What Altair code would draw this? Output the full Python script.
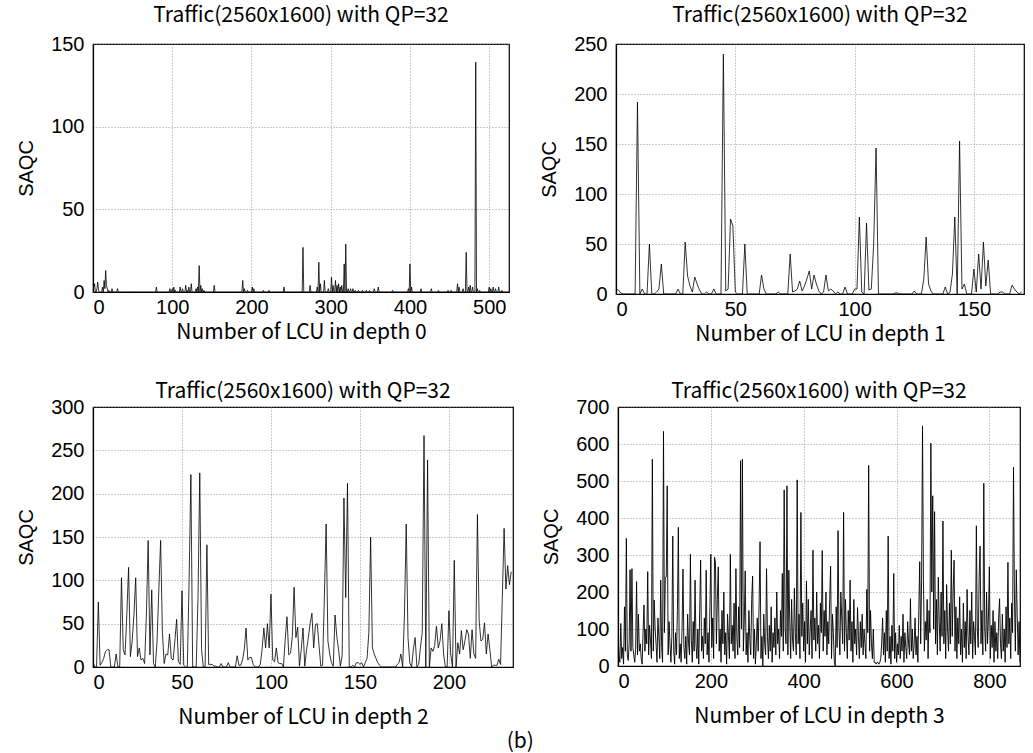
import altair as alt
import pandas as pd

TITLE = "Traffic(2560x1600) with QP=32"

# ---- depth 0: sparse spikes on a zero baseline (index, value) ----
d0_len = 526
d0_idx = [1, 2, 5, 6, 7, 12, 14, 15, 16, 17, 18, 20, 24, 31, 80, 97, 100, 102, 104, 110,
          113, 117, 119, 121, 124, 130, 132, 134, 136, 138, 140, 153, 189, 191, 195, 201, 203,
          215, 222, 241, 265, 274, 283, 285, 287, 292, 297, 301, 303, 306, 308, 310, 312, 314,
          317, 319, 322, 325, 328, 331, 335, 340, 345, 349, 355, 360, 378, 398, 400, 402, 414,
          427, 436, 448, 452, 460, 462, 467, 471, 474, 476, 479, 483, 485, 488, 500, 502, 505,
          508, 512, 516]
d0_val = [3, 5, 2, 6, 1, 3, 7, 2, 13, 4, 2, 1, 2, 2, 3, 2, 2, 3, 1, 3,
          2, 4, 1, 3, 5, 2, 3, 16, 4, 2, 1, 4, 7, 2, 1, 3, 2,
          1, 1, 3, 27, 4, 3, 18, 5, 7, 2, 9, 4, 7, 4, 5, 3, 4,
          17, 29, 2, 2, 2, 1, 1, 1, 1, 1, 2, 3, 1, 2, 17, 3, 2,
          2, 1, 1, 1, 5, 3, 2, 24, 3, 4, 3, 139, 2, 1, 3, 2, 3,
          2, 3, 1]

# ---- depth 1 ----
d1 = [5, 4, 1, 0, 0, 0, 0, 0, 0, 192, 0, 5, 0, 0, 50, 0, 0, 2, 5, 30,
      0, 0, 0, 0, 0, 0, 5, 0, 0, 52, 18, 8, 2, 17, 10, 4, 0, 0, 2, 0,
      0, 5, 0, 0, 0, 240, 3, 5, 75, 68, 2, 0, 0, 0, 50, 0, 0, 0, 0, 0,
      0, 19, 5, 0, 0, 0, 0, 0, 2, 0, 0, 0, 0, 40, 2, 3, 5, 13, 3, 8,
      15, 23, 5, 19, 10, 3, 0, 2, 19, 3, 5, 3, 0, 2, 0, 0, 7, 0, 0, 0,
      5, 5, 77, 2, 0, 71, 4, 5, 50, 146, 0, 0, 0, 0, 0, 0, 0, 1, 1, 0,
      0, 0, 0, 0, 0, 3, 0, 0, 0, 15, 57, 10, 3, 0, 0, 0, 0, 0, 7, 0,
      2, 20, 77, 0, 153, 5, 10, 0, 0, 0, 25, 2, 40, 5, 52, 8, 34, 0, 0, 0,
      0, 2, 2, 0, 0, 0, 9, 5, 2, 0, 2]

# ---- depth 2 ----
d2 = [5, 0, 0, 75, 2, 5, 10, 18, 20, 20, 0, 0, 0, 15, 0, 0, 103, 20, 14, 60,
      115, 12, 30, 60, 103, 12, 22, 8, 10, 4, 60, 146, 14, 89, 4, 0, 30, 90, 146, 40,
      4, 15, 14, 38, 10, 8, 30, 55, 6, 3, 88, 2, 0, 0, 100, 222, 0, 0, 0, 80,
      224, 20, 0, 0, 141, 3, 3, 3, 1, 1, 0, 0, 4, 0, 0, 0, 5, 0, 0, 0,
      0, 13, 2, 2, 8, 20, 45, 8, 11, 11, 3, 0, 0, 0, 3, 20, 45, 22, 50, 22,
      84, 8, 6, 22, 5, 4, 4, 0, 32, 58, 14, 16, 35, 92, 34, 46, 1, 20, 45, 1,
      20, 34, 50, 62, 22, 49, 50, 25, 1, 2, 80, 165, 30, 15, 5, 1, 60, 35, 20, 1,
      13, 195, 80, 212, 0, 0, 2, 0, 5, 5, 3, 5, 0, 5, 10, 40, 150, 22, 15, 10,
      5, 2, 0, 0, 0, 0, 0, 0, 0, 0, 0, 3, 5, 15, 0, 60, 165, 34, 5, 0,
      20, 34, 0, 3, 23, 40, 267, 0, 239, 0, 22, 18, 25, 47, 22, 30, 50, 15, 0, 0,
      65, 15, 0, 123, 0, 28, 15, 42, 20, 30, 43, 38, 10, 43, 15, 10, 176, 53, 30, 32,
      51, 15, 38, 20, 0, 2, 2, 2, 9, 3, 80, 160, 90, 117, 95, 110]

# ---- depth 3 (sampled every 2 LCU) ----
d3_step = 2
d3 = [80, 30, 10, 115, 20, 50, 5, 160, 40, 345, 30, 15, 60, 260, 40, 263, 50, 30, 10, 45,
      228, 30, 140, 40, 60, 20, 5, 90, 165, 40, 100, 60, 255, 30, 110, 70, 20, 559, 40, 178,
      100, 60, 10, 130, 80, 20, 232, 50, 10, 634, 90, 240, 241, 487, 30, 120, 60, 10, 80, 351,
      40, 5, 90, 30, 150, 375, 20, 60, 10, 100, 262, 50, 20, 80, 5, 140, 60, 30, 302, 70,
      10, 120, 40, 232, 60, 20, 100, 5, 150, 286, 40, 80, 20, 130, 60, 259, 30, 90, 10, 160,
      302, 50, 130, 20, 294, 280, 60, 180, 268, 40, 100, 10, 150, 60, 200, 30, 90, 5, 140, 80,
      20, 302, 60, 110, 40, 170, 20, 263, 80, 30, 160, 50, 555, 100, 559, 40, 120, 257, 30, 90,
      10, 150, 70, 30, 180, 243, 20, 100, 5, 60, 130, 40, 170, 336, 20, 80, 0, 140, 60, 30,
      263, 80, 20, 110, 40, 160, 10, 90, 50, 130, 30, 200, 60, 100, 20, 150, 80, 250, 40, 476,
      100, 60, 487, 30, 259, 120, 20, 180, 70, 40, 210, 90, 30, 503, 60, 140, 20, 415, 80, 170,
      40, 120, 10, 230, 60, 180, 30, 100, 150, 20, 313, 70, 130, 40, 200, 60, 110, 20, 170, 90,
      312, 40, 150, 80, 200, 30, 120, 60, 180, 270, 20, 140, 90, 10, 0, 160, 50, 366, 100, 30,
      200, 130, 60, 415, 40, 180, 90, 20, 150, 70, 232, 40, 120, 10, 180, 60, 100, 30, 158, 80,
      20, 120, 50, 140, 30, 100, 60, 20, 207, 90, 542, 40, 150, 60, 20, 100, 10, 10, 5, 10,
      10, 5, 10, 20, 60, 130, 30, 90, 10, 150, 40, 351, 20, 80, 5, 110, 40, 250, 20, 90,
      10, 60, 30, 110, 20, 80, 40, 140, 10, 90, 50, 20, 120, 60, 30, 182, 40, 100, 20, 60,
      130, 30, 80, 10, 150, 282, 60, 230, 649, 232, 40, 120, 70, 180, 20, 150, 90, 602, 200, 460,
      100, 417, 60, 180, 30, 240, 120, 40, 200, 80, 392, 60, 150, 20, 220, 100, 40, 170, 60, 313,
      80, 200, 286, 40, 160, 20, 130, 60, 187, 30, 100, 10, 170, 50, 120, 20, 207, 80, 30, 150,
      60, 200, 20, 120, 80, 30, 379, 100, 50, 240, 324, 60, 150, 30, 494, 100, 40, 200, 60, 130,
      268, 20, 110, 50, 150, 10, 120, 40, 90, 20, 130, 182, 60, 20, 140, 40, 100, 10, 160, 50,
      280, 60, 130, 20, 170, 90, 537, 200, 40, 260, 140, 30, 120, 10]

# build tables
d0 = [0] * d0_len
for i, v in zip(d0_idx, d0_val):
    d0[i] = v
df0 = pd.DataFrame({"x": list(range(len(d0))), "y": d0})
df1 = pd.DataFrame({"x": list(range(len(d1))), "y": d1})
df2 = pd.DataFrame({"x": list(range(len(d2))), "y": d2})
df3 = pd.DataFrame({"x": [i * d3_step for i in range(len(d3))], "y": d3})

LABEL_FONT = "Liberation Sans"
CJK = "Noto Sans CJK JP"


def panel(df, xmax, xticks, ymax, yticks, xtitle, w, h, toff, xtp, lw=0.8):
    return alt.Chart(df).mark_line(color="black", strokeWidth=lw, clip=True).encode(
        x=alt.X("x:Q",
                scale=alt.Scale(domain=[0, xmax], nice=False, zero=False),
                axis=alt.Axis(values=xticks, title=xtitle, format="d", titlePadding=xtp)),
        y=alt.Y("y:Q",
                scale=alt.Scale(domain=[0, ymax], nice=False),
                axis=alt.Axis(values=yticks, title="SAQC", format="d")),
    ).properties(width=w, height=h,
                 title=alt.TitleParams(TITLE, font=CJK, fontSize=21, fontWeight="normal",
                                       color="black", offset=toff))


p1 = panel(df0, 525, [0, 100, 200, 300, 400, 500], 150, [0, 50, 100, 150],
           "Number of LCU in depth 0", 416, 248, 8, 4)
p2 = panel(df1, 171, [0, 50, 100, 150], 250, [0, 50, 100, 150, 200, 250],
           "Number of LCU in depth 1", 408, 250, 8, 4)
p3 = panel(df2, 236, [0, 50, 100, 150, 200], 300, [0, 50, 100, 150, 200, 250, 300],
           "Number of LCU in depth 2", 420, 260, -5, 14)
p4 = panel(df3, 866, [0, 200, 400, 600, 800], 700, [0, 100, 200, 300, 400, 500, 600, 700],
           "Number of LCU in depth 3", 402, 259, -5, 14, lw=0.9)

row1 = alt.hconcat(p1, p2, spacing=29)
row2 = alt.hconcat(p3, p4, spacing=27)

chart = alt.vconcat(row1, row2, spacing=35).properties(
    title=alt.TitleParams("(b)", orient="bottom", anchor="middle", font=CJK, fontSize=21,
                          fontWeight="normal", color="black", offset=3),
    padding={"left": 16, "top": 4, "right": 5, "bottom": 5},
).configure_view(
    stroke="black", strokeWidth=1.2
).configure_axis(
    labelFont=LABEL_FONT, labelFontSize=20, labelColor="black",
    domainColor="black", domainWidth=1.2,
    ticks=False,
    grid=True, gridColor="#808080", gridDash=[1, 2], gridWidth=0.8,
    titleColor="black", titleFontWeight="normal",
).configure_axisX(
    titleFont=CJK, titleFontSize=21, labelPadding=5,
).configure_axisY(
    titleFont=LABEL_FONT, titleFontSize=20, titlePadding=14, labelPadding=9,
).configure_title(
    font=CJK
)

chart.save("out.html", embed_options={"renderer": "svg", "actions": False})
